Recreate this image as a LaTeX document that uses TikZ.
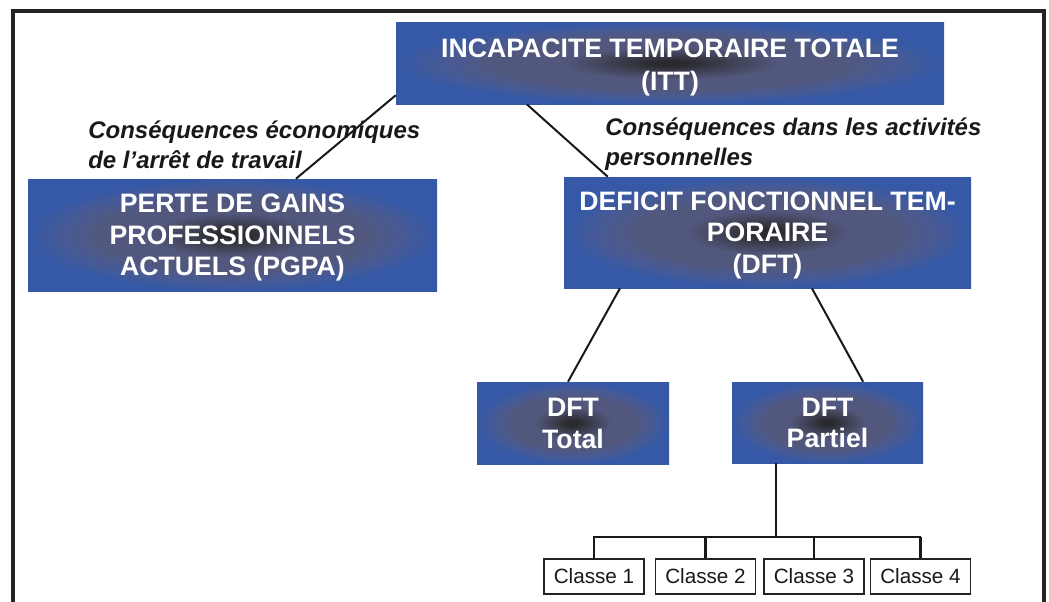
\documentclass[tikz,border=0pt]{standalone}
\usepackage{fontspec}
\setmainfont{Liberation Sans}
\usetikzlibrary{calc}
\definecolor{shblue}{RGB}{53,89,166}
\definecolor{shblue2}{RGB}{70,90,150}
\definecolor{shmid}{RGB}{82,88,125}
\definecolor{shdark}{RGB}{60,62,78}
\definecolor{shcen}{RGB}{42,42,46}
\definecolor{framecol}{RGB}{35,35,35}
\definecolor{inkcol}{RGB}{25,25,25}
\pgfdeclareradialshading{boxshade}{\pgfpoint{0bp}{0bp}}{color(0bp)=(shcen); color(1.5bp)=(shcen); color(5bp)=(shdark); color(10bp)=(shmid); color(16bp)=(shmid); color(21bp)=(shblue2); color(25bp)=(shblue); color(50bp)=(shblue)}
\begin{document}
\begin{tikzpicture}[x=0.75pt,y=-0.75pt]
\tikzset{
  boxsize/.style 2 args={minimum width=#1*0.75pt, minimum height=#2*0.75pt},
  bluebox/.style={rectangle, inner sep=0pt, shade, shading=boxshade},
  boxtext/.style={inner sep=0pt, text=white, align=center,
    font=\bfseries\fontsize{20}{23.6}\selectfont},
  classbox/.style={rectangle, inner sep=0pt, draw=framecol, line width=0.8pt, fill=white,
    minimum width=100*0.75pt, minimum height=35*0.75pt, font=\fontsize{15.5}{18}\selectfont, text=inkcol},
  conn/.style={draw=inkcol, line width=1.5pt},
  busline/.style={draw=inkcol, line width=1.9pt},
  lbl/.style={inner sep=0pt, anchor=west, align=left, text=inkcol,
    font=\bfseries\itshape\fontsize{18}{22.5}\selectfont},
}
\useasboundingbox (0,0) rectangle (1049,601);
\fill[white] (0,0) rectangle (1049,601);
% frame
\draw[line width=2.3pt, framecol] (13,610) -- (13,11) -- (1044,11) -- (1044,610);

% boxes
\node[bluebox, boxsize={548}{82}] (itt) at (670,63) {};
\node[bluebox, boxsize={409}{112}] (pgpa) at (232.5,235) {};
\node[bluebox, boxsize={407}{111}] (dft) at (767.5,232.5) {};
\node[bluebox, boxsize={192}{82}] (total) at (573,423) {};
\node[bluebox, boxsize={191}{81}] (partiel) at (827.5,422.5) {};

% box texts
\node[boxtext] (itt-t) at ($(itt.center)+(0,4.5)$) {INCAPACITE TEMPORAIRE TOTALE\\[1.5pt](ITT)};
\node[boxtext] (pgpa-t) at ($(pgpa.center)+(0,2.5)$) {PERTE DE GAINS\\PROFESSIONNELS\\ACTUELS (PGPA)};
\node[boxtext] (dft-t) at ($(dft.center)+(0,2.5)$) {DEFICIT FONCTIONNEL TEM-\\PORAIRE\\(DFT)};
\node[boxtext] (total-t) at ($(total.center)+(0,0.5)$) {DFT\\Total};
\node[boxtext] (partiel-t) at ($(partiel.center)+(0,0.5)$) {DFT\\Partiel};

% class boxes
\node[classbox] (c1) at (594,576.5) {Classe 1};
\node[classbox] (c2) at (705.5,576.5) {Classe 2};
\node[classbox] (c3) at (814,576.5) {Classe 3};
\node[classbox] (c4) at (920.5,576.5) {Classe 4};

% labels
\node[lbl] (lblA) at (88,144.5) {Conséquences économiques\\de l’arrêt de travail};
\node[lbl] (lblB) at (605,144.5) {Conséquences dans les activités\\personnelles};

% connectors
\draw[conn] ([yshift=6.75pt]itt.south west) -- ($(pgpa.north west)!0.655!(pgpa.north east)$);
\draw[conn] ($(itt.south west)!0.239!(itt.south east)$) -- ($(dft.north west)!0.108!(dft.north east)$);
\draw[conn] ($(dft.south west)!0.138!(dft.south east)$) -- ($(total.north west)!0.474!(total.north east)$);
\draw[conn] ($(dft.south west)!0.609!(dft.south east)$) -- ($(partiel.north west)!0.686!(partiel.north east)$);

\coordinate (bus) at (776,537);
\draw[busline] (bus |- partiel.south) -- (bus);
\draw[busline] ([xshift=-0.7pt]c1.north |- bus) -- ([xshift=0.7pt]c4.north |- bus);
\draw[busline] (c1.north |- bus) -- (c1.north);
\draw[busline] (c2.north |- bus) -- (c2.north);
\draw[busline] (c3.north |- bus) -- (c3.north);
\draw[busline] (c4.north |- bus) -- (c4.north);
\end{tikzpicture}
\end{document}
